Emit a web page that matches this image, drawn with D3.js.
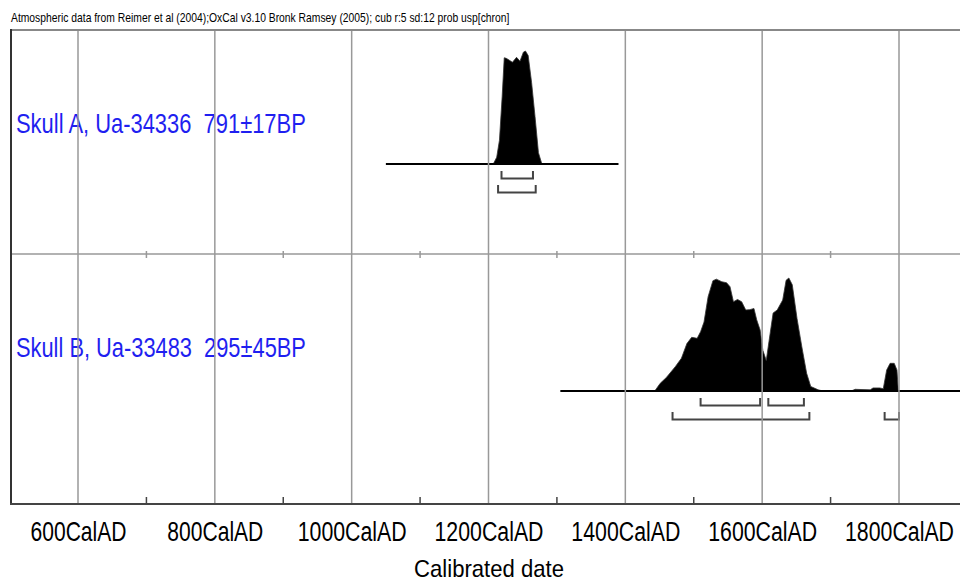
<!DOCTYPE html>
<html>
<head>
<meta charset="utf-8">
<script src="https://cdn.jsdelivr.net/npm/d3@7"></script>
<style>
  body { margin: 0; background: #fff; }
  svg { display: block; font-family: "Liberation Sans", Arial, sans-serif; }
</style>
</head>
<body>
<svg id="chart"></svg>
<script>
// Chart values
const title = "Atmospheric data from Reimer et al (2004);OxCal v3.10 Bronk Ramsey (2005); cub r:5 sd:12 prob usp[chron]";
const sampleLabels = ["Skull A, Ua-34336  791±17BP", "Skull B, Ua-33483  295±45BP"];
const majorTicks = [600, 800, 1000, 1200, 1400, 1600, 1800];
const minorTicks = [700, 900, 1100, 1300, 1500, 1700];
const axisTitle = "Calibrated date";

// Skull A probability distribution (relative)
const yearsA = [1207, 1212, 1216, 1220, 1223, 1226, 1230, 1235, 1241, 1246, 1251, 1254, 1258, 1263, 1268, 1273, 1278];
const probA  = [0, 0.06, 0.21, 0.60, 0.94, 0.935, 0.92, 0.90, 0.944, 0.91, 0.99, 1.0, 0.96, 0.72, 0.42, 0.10, 0];
const spanA = [1050, 1390];
const range68A = [[1219, 1265]];
const range95A = [[1214, 1269]];

// Skull B probability distribution (relative)
const yearsB = [1443, 1451, 1460, 1473, 1482, 1490, 1497, 1505, 1510, 1515, 1521, 1528, 1533, 1541, 1548, 1553,
  1558, 1564, 1570, 1576, 1582, 1588, 1592, 1597, 1601, 1606, 1610, 1616, 1622, 1630, 1635, 1639, 1644,
  1651, 1658, 1665, 1671, 1682, 1689, 1730, 1736, 1758, 1762, 1772, 1777, 1782, 1787, 1793, 1797, 1799];
const probB  = [0, 0.068, 0.12, 0.215, 0.29, 0.42, 0.475, 0.466, 0.525, 0.61, 0.835, 0.976, 0.99, 0.967, 0.958, 0.923,
  0.79, 0.81, 0.79, 0.717, 0.72, 0.73, 0.63, 0.54, 0.36, 0.27, 0.44, 0.69, 0.717, 0.805, 0.98, 1.0, 0.94,
  0.64, 0.39, 0.157, 0.04, 0.01, 0, 0, 0.015, 0.01, 0.027, 0.027, 0.02, 0.186, 0.245, 0.245, 0.186, 0];
const spanB = [1305, 1950];
const range68B = [[1510, 1597], [1609, 1661]];
const range95B = [[1469, 1669], [1779, 1800]];

const width = 960, height = 582;
const frameLeft = 11, frameTop = 30, frameBottom = 504, frameMid = 254;

const svg = d3.select("#chart").attr("width", width).attr("height", height);

const x = d3.scaleLinear().domain([600, 1800]).range([78, 899]);

// squeeze a text horizontally (OxCal uses a condensed face)
function squeeze(sel, w, tx, ty) {
  sel.each(function() {
    const s = w / this.getComputedTextLength();
    d3.select(this).attr("transform", `translate(${tx || 0},${ty || 0}) scale(${s},1)`);
  });
}

// title
svg.append("text")
  .attr("font-size", 12)
  .text(title)
  .call(squeeze, 499, 11, 22);

const panels = [
  { label: sampleLabels[0], labelY: 133, base: 164, years: yearsA, prob: probA, span: spanA, r68: range68A, r95: range95A },
  { label: sampleLabels[1], labelY: 357, base: 391, years: yearsB, prob: probB, span: spanB, r68: range68B, r95: range95B }
];

panels.forEach(p => {
  const y = d3.scaleLinear().domain([0, 1]).range([p.base, p.base - 113]);
  const pts = p.years.map((yr, i) => [yr, p.prob[i]]);

  svg.append("path")
    .datum(pts)
    .attr("d", d3.area().x(d => x(d[0])).y0(p.base).y1(d => y(d[1])))
    .attr("fill", "#000")
    .attr("stroke", "#333")
    .attr("stroke-width", 0.8);

  svg.append("line")
    .attr("x1", x(p.span[0])).attr("x2", Math.min(x(p.span[1]), width))
    .attr("y1", p.base).attr("y2", p.base)
    .attr("stroke", "#000").attr("stroke-width", 2);

  const bracket = (ranges, off, tip) => {
    ranges.forEach(r => {
      svg.append("path")
        .attr("d", `M${x(r[0])},${p.base + tip}V${p.base + off}H${x(r[1])}V${p.base + tip}`)
        .attr("fill", "none")
        .attr("stroke", "#444")
        .attr("stroke-width", 2);
    });
  };
  bracket(p.r68, 14.5, 7);
  bracket(p.r95, 28.5, 21);

  svg.append("text")
    .attr("font-size", 27)
    .attr("fill", "#1f1ff0")
    .style("white-space", "pre")
    .text(p.label)
    .call(squeeze, 290, 16, p.labelY);
});

// vertical grid lines
svg.selectAll(".grid")
  .data(majorTicks)
  .enter().append("line")
  .attr("class", "grid")
  .attr("x1", d => x(d)).attr("x2", d => x(d))
  .attr("y1", frameTop).attr("y2", frameBottom)
  .attr("stroke", "#999").attr("stroke-width", 1.5);

// frame
svg.append("line").attr("x1", frameLeft).attr("x2", width).attr("y1", frameTop).attr("y2", frameTop)
  .attr("stroke", "#888").attr("stroke-width", 2);
svg.append("line").attr("x1", frameLeft).attr("x2", width).attr("y1", frameMid).attr("y2", frameMid)
  .attr("stroke", "#999").attr("stroke-width", 1.5);
svg.append("line").attr("x1", frameLeft).attr("x2", frameLeft).attr("y1", frameTop - 1).attr("y2", frameBottom + 1)
  .attr("stroke", "#333").attr("stroke-width", 2);

// minor ticks on the middle line
svg.selectAll(".midtick")
  .data(minorTicks)
  .enter().append("line")
  .attr("class", "midtick")
  .attr("x1", d => x(d)).attr("x2", d => x(d))
  .attr("y1", frameMid - 3).attr("y2", frameMid + 4)
  .attr("stroke", "#999").attr("stroke-width", 1.5);

// bottom axis
const xAxis = d3.axisBottom(x)
  .tickValues(majorTicks)
  .tickSize(0)
  .tickPadding(0)
  .tickFormat(d => d + "CalAD");

const gx = svg.append("g")
  .attr("transform", `translate(0, ${frameBottom})`)
  .call(xAxis);
gx.select(".domain").remove();
gx.selectAll("text")
  .attr("y", 0)
  .attr("dy", 0)
  .attr("font-size", 27)
  .attr("font-family", "Liberation Sans, Arial, sans-serif")
  .attr("fill", "#000")
  .each(function(d) {
    d3.select(this).call(squeeze, String(d).length === 3 ? 96 : 109, 0, 37);
  });

svg.append("line").attr("x1", frameLeft - 1).attr("x2", width).attr("y1", frameBottom).attr("y2", frameBottom)
  .attr("stroke", "#444").attr("stroke-width", 2);

svg.selectAll(".minor")
  .data(minorTicks)
  .enter().append("line")
  .attr("class", "minor")
  .attr("x1", d => x(d)).attr("x2", d => x(d))
  .attr("y1", frameBottom - 7).attr("y2", frameBottom)
  .attr("stroke", "#444").attr("stroke-width", 1.5);

svg.append("text")
  .attr("text-anchor", "middle")
  .attr("font-size", 24)
  .text(axisTitle)
  .call(squeeze, 150, 489, 577);
</script>
</body>
</html>
